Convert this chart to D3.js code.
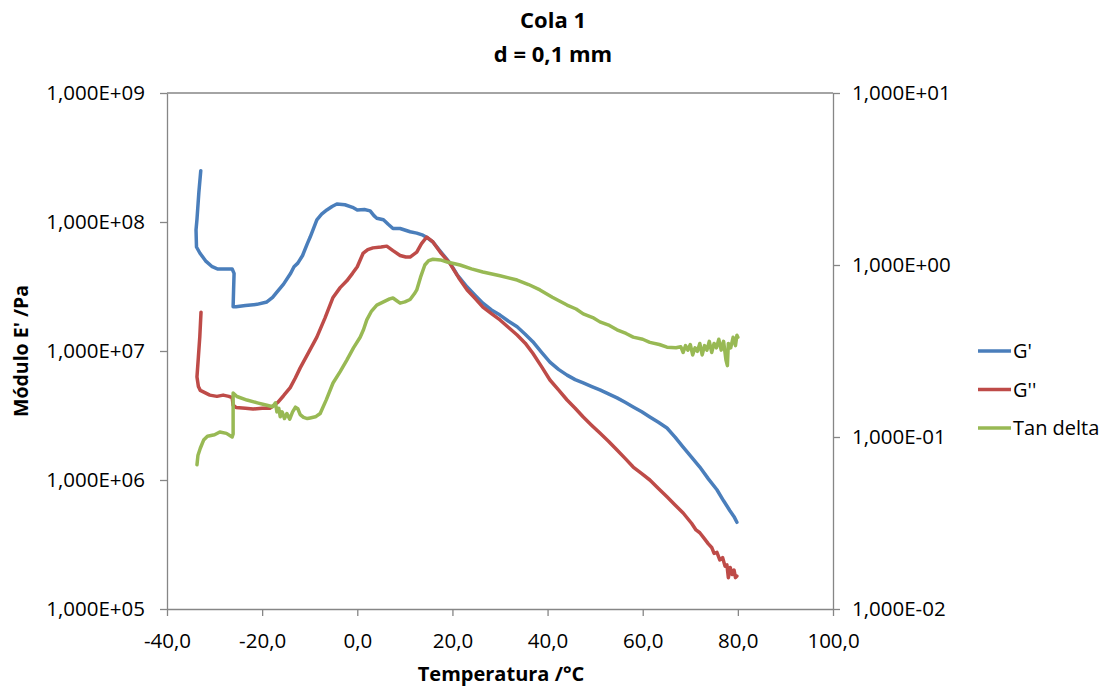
<!DOCTYPE html>
<html>
<head>
<meta charset="utf-8">
<script src="https://cdn.jsdelivr.net/npm/d3@7"></script>
<style>
  body { margin: 0; background: #fff; }
  text { font-family: "Open Sans", "Noto Sans", sans-serif; fill: #000; }
</style>
</head>
<body>
<svg id="chart" width="1113" height="688"></svg>
<script>
// temperature (°C) vs G' (Pa)
var gPrime = [
  [-32.9, 2.5e8], [-33.3, 1.7e8], [-33.7, 1.05e8], [-33.9, 8.7e7], [-33.8, 6.4e7], [-33.1, 5.75e7],
  [-31.9, 5.0e7], [-30.5, 4.5e7], [-29.3, 4.32e7], [-27.5, 4.32e7], [-26.3, 4.32e7], [-25.9, 4.0e7],
  [-26.0, 3.0e7], [-26.1, 2.2e7], [-25.5, 2.2e7], [-23.5, 2.25e7], [-21.1, 2.3e7], [-19.0, 2.4e7],
  [-17.8, 2.6e7], [-16.9, 2.86e7], [-15.5, 3.3e7], [-14.0, 4.0e7], [-13.3, 4.5e7], [-12.5, 4.8e7],
  [-11.5, 5.5e7], [-10.5, 6.8e7], [-9.9, 7.65e7], [-8.5, 1.04e8], [-7.5, 1.15e8], [-6.4, 1.24e8],
  [-5.3, 1.32e8], [-4.3, 1.38e8], [-2.6, 1.36e8], [-1.0, 1.3e8], [0.0, 1.24e8], [1.5, 1.25e8],
  [2.7, 1.22e8], [3.5, 1.12e8], [4.1, 1.07e8], [5.5, 1.04e8], [6.5, 9.6e7], [7.5, 8.9e7],
  [9.0, 8.9e7], [11.1, 8.4e7], [12.5, 8.2e7], [13.8, 7.9e7], [14.8, 7.5e7], [15.9, 7.0e7],
  [17.5, 5.9e7], [19.5, 4.8e7], [21.0, 3.9e7], [23.1, 3.13e7], [24.8, 2.7e7], [26.4, 2.35e7],
  [28.2, 2.08e7], [30.0, 1.9e7], [31.8, 1.7e7], [33.6, 1.54e7], [35.3, 1.35e7], [36.9, 1.18e7],
  [38.7, 9.8e6], [40.5, 8.2e6], [42.3, 7.2e6], [44.1, 6.5e6], [45.8, 6.0e6], [47.5, 5.65e6],
  [49.3, 5.3e6], [51.0, 5.0e6], [52.8, 4.65e6], [54.6, 4.33e6], [56.3, 4.0e6], [58.0, 3.68e6],
  [59.8, 3.38e6], [61.5, 3.08e6], [63.3, 2.8e6], [65.1, 2.53e6], [66.8, 2.15e6], [68.5, 1.8e6],
  [70.3, 1.5e6], [72.0, 1.26e6], [73.8, 1.02e6], [75.6, 8.4e5], [77.0, 6.9e5], [78.3, 5.8e5],
  [79.2, 5.2e5], [79.8, 4.7e5]
];

// temperature vs G'' (Pa)
var gDouble = [
  [-32.85, 2.0e7], [-33.1, 1.3e7], [-33.4, 9.0e6], [-33.7, 6.3e6], [-33.4, 5.3e6], [-33.0, 4.95e6],
  [-31.0, 4.55e6], [-29.5, 4.45e6], [-28.2, 4.55e6], [-27.0, 4.45e6], [-26.3, 4.35e6], [-26.1, 3.8e6],
  [-25.5, 3.65e6], [-23.5, 3.6e6], [-21.9, 3.55e6], [-20.0, 3.6e6], [-18.4, 3.6e6], [-17.5, 3.8e6],
  [-16.7, 4.0e6], [-15.5, 4.5e6], [-14.1, 5.2e6], [-13.0, 6.2e6], [-12.0, 7.4e6], [-10.2, 9.8e6],
  [-8.5, 1.28e7], [-6.8, 1.8e7], [-5.1, 2.6e7], [-3.6, 3.1e7], [-2.2, 3.5e7], [-1.0, 4.0e7],
  [0.0, 4.5e7], [1.2, 5.7e7], [2.2, 6.1e7], [3.3, 6.3e7], [5.0, 6.4e7], [6.2, 6.5e7],
  [7.5, 6.0e7], [9.0, 5.5e7], [10.2, 5.35e7], [11.1, 5.35e7], [12.5, 5.85e7], [13.5, 6.8e7],
  [14.6, 7.65e7], [15.9, 7.0e7], [17.5, 5.8e7], [19.5, 4.75e7], [21.3, 3.7e7], [23.1, 2.97e7],
  [24.8, 2.55e7], [26.4, 2.19e7], [28.2, 1.95e7], [30.0, 1.74e7], [31.8, 1.52e7], [33.6, 1.33e7],
  [35.3, 1.15e7], [36.9, 9.6e6], [38.7, 7.6e6], [40.5, 5.96e6], [42.3, 5.0e6], [44.1, 4.17e6],
  [45.8, 3.6e6], [47.5, 3.08e6], [49.3, 2.65e6], [51.0, 2.31e6], [52.8, 2.0e6], [54.6, 1.71e6],
  [56.3, 1.47e6], [58.0, 1.26e6], [59.8, 1.12e6], [61.5, 1.0e6], [63.3, 8.6e5], [65.1, 7.4e5],
  [66.8, 6.4e5], [68.5, 5.55e5], [70.3, 4.6e5], [71.2, 4.1e5], [72.0, 3.9e5], [73.0, 3.5e5],
  [73.8, 3.2e5], [74.5, 3.0e5], [75.0, 2.7e5], [75.6, 2.75e5], [76.2, 2.4e5], [76.8, 2.5e5],
  [77.3, 2.15e5], [77.7, 2.2e5], [78.0, 1.75e5], [78.4, 2.1e5], [78.8, 1.85e5], [79.2, 2.0e5],
  [79.5, 1.75e5], [79.8, 1.8e5]
];

// temperature vs tan delta (right axis)
var tanDelta = [
  [-33.7, 0.069], [-33.5, 0.078], [-33.0, 0.086], [-32.3, 0.096], [-31.5, 0.101], [-30.0, 0.103],
  [-28.9, 0.107], [-27.5, 0.105], [-26.3, 0.100], [-26.1, 0.104], [-26.1, 0.18], [-25.3, 0.172],
  [-23.2, 0.164], [-21.0, 0.158], [-19.0, 0.153], [-17.8, 0.150], [-17.2, 0.158], [-16.9, 0.140],
  [-16.5, 0.147], [-16.2, 0.131], [-15.8, 0.140], [-15.3, 0.128], [-14.8, 0.137], [-14.2, 0.127],
  [-13.6, 0.140], [-13.0, 0.149], [-12.5, 0.146], [-12.0, 0.135], [-11.3, 0.130], [-10.5, 0.128],
  [-9.9, 0.129], [-8.8, 0.131], [-7.8, 0.137], [-6.5, 0.165], [-5.1, 0.206], [-3.6, 0.24],
  [-2.2, 0.28], [-0.8, 0.33], [0.6, 0.38], [1.3, 0.42], [2.0, 0.48], [3.0, 0.54],
  [4.1, 0.585], [5.5, 0.61], [6.8, 0.635], [7.5, 0.643], [8.3, 0.62], [9.0, 0.60],
  [10.0, 0.61], [11.1, 0.63], [12.0, 0.68], [12.5, 0.716], [13.3, 0.85], [14.2, 1.0],
  [15.0, 1.06], [15.9, 1.08], [17.5, 1.07], [18.9, 1.04], [21.6, 1.0], [24.0, 0.95],
  [26.4, 0.91], [30.0, 0.865], [33.6, 0.818], [36.0, 0.77], [38.4, 0.716], [41.0, 0.65],
  [44.1, 0.585], [46.0, 0.555], [47.5, 0.52], [49.5, 0.495], [51.0, 0.467], [53.0, 0.445],
  [54.6, 0.42], [56.5, 0.40], [58.0, 0.381], [60.0, 0.37], [61.5, 0.355], [63.5, 0.345],
  [65.1, 0.333], [67.0, 0.33], [68.0, 0.335], [68.5, 0.31], [69.0, 0.34], [69.5, 0.32],
  [70.0, 0.345], [70.5, 0.30], [71.0, 0.33], [71.5, 0.315], [72.0, 0.35], [72.5, 0.30],
  [73.0, 0.34], [73.5, 0.32], [74.0, 0.36], [74.5, 0.31], [75.0, 0.35], [75.5, 0.33],
  [76.0, 0.37], [76.5, 0.32], [77.0, 0.36], [77.5, 0.28], [77.8, 0.26], [78.0, 0.35],
  [78.5, 0.33], [79.0, 0.38], [79.5, 0.34], [79.8, 0.39], [80.0, 0.38]
];

var xTicks = [-40, -20, 0, 20, 40, 60, 80, 100];
var leftTicks = [1e5, 1e6, 1e7, 1e8, 1e9];
var rightTicks = [1e-2, 1e-1, 1e0, 1e1];
var seriesNames = ["G'", "G''", "Tan delta"];
var seriesColors = ["#4A7EBB", "#BE4B48", "#98B954"];

const margin = {top: 93, right: 280, bottom: 79, left: 167};
var width = 1113 - margin.left - margin.right;
var height = 688 - margin.top - margin.bottom;

var svg = d3.select("#chart");
var g = svg.append("g").attr("transform", "translate(" + margin.left + "," + margin.top + ")");

var x = d3.scaleLinear().domain([-40, 100]).range([0, width]);
var yLeft = d3.scaleLog().domain([1e5, 1e9]).range([height, 0]);
var yRight = d3.scaleLog().domain([1e-2, 1e1]).range([height, 0]);

function sci(v){
  var e = Math.round(Math.log10(v));
  var s = e < 0 ? "-" : "+";
  var a = Math.abs(e);
  return "1,000E" + s + (a < 10 ? "0" + a : a);
}

var axisColor = "#868686";
var tickFont = "20.5px";

var xAxis = g.append("g")
  .attr("transform", "translate(0," + height + ")")
  .call(d3.axisBottom(x).tickValues(xTicks).tickSize(7).tickSizeOuter(0).tickPadding(17)
    .tickFormat(d => d3.format(".1f")(d).replace(".", ",").replace("\u2212", "-")));

var lAxis = g.append("g")
  .call(d3.axisLeft(yLeft).tickValues(leftTicks).tickSize(7).tickSizeOuter(0).tickPadding(15)
    .tickFormat(sci));

var rAxis = g.append("g")
  .attr("transform", "translate(" + width + ",0)")
  .call(d3.axisRight(yRight).tickValues(rightTicks).tickSize(7).tickSizeOuter(0).tickPadding(12)
    .tickFormat(sci));

[xAxis, lAxis, rAxis].forEach(function(a){
  a.select(".domain").attr("stroke", axisColor).attr("stroke-width", 1.3);
  a.selectAll(".tick line").attr("stroke", axisColor).attr("stroke-width", 1.3);
  a.selectAll(".tick text").style("font-size", tickFont).attr("fill", "#000");
});

// top border line of plot area
g.append("line")
  .attr("x1", 0).attr("x2", width).attr("y1", 0).attr("y2", 0)
  .attr("stroke", axisColor).attr("stroke-width", 1.3);

var lineLeft = d3.line().x(d => x(d[0])).y(d => yLeft(d[1]));
var lineRight = d3.line().x(d => x(d[0])).y(d => yRight(d[1]));

var series = [
  {data: gPrime, line: lineLeft},
  {data: gDouble, line: lineLeft},
  {data: tanDelta, line: lineRight}
];

series.forEach(function(s, i){
  g.append("path")
    .datum(s.data)
    .attr("d", s.line)
    .attr("fill", "none")
    .attr("stroke", seriesColors[i])
    .attr("stroke-width", 3.5)
    .attr("stroke-linejoin", "round")
    .attr("stroke-linecap", "round");
});

// titles
svg.append("text").attr("x", 553).attr("y", 28).attr("text-anchor", "middle")
  .style("font-size", "22px").style("font-weight", "bold").text("Cola 1");
svg.append("text").attr("x", 553).attr("y", 62).attr("text-anchor", "middle")
  .style("font-size", "22px").style("font-weight", "bold").text("d = 0,1 mm");

svg.append("text").attr("x", 501).attr("y", 681).attr("text-anchor", "middle")
  .style("font-size", "20px").style("font-weight", "bold").text("Temperatura /°C");

svg.append("text")
  .attr("transform", "translate(28," + (margin.top + height / 2) + ") rotate(-90)")
  .attr("text-anchor", "middle")
  .style("font-size", "19.5px").style("font-weight", "bold").text("Módulo E' /Pa");

// legend
var legend = svg.append("g").attr("transform", "translate(978,351)");
seriesNames.forEach(function(n, i){
  var row = legend.append("g").attr("transform", "translate(0," + (i * 38.5) + ")");
  row.append("line").attr("x1", 0).attr("x2", 33).attr("y1", 0).attr("y2", 0)
    .attr("stroke", seriesColors[i]).attr("stroke-width", 3.5);
  row.append("text").attr("x", 35).attr("y", 7).style("font-size", "20px").text(n);
});
</script>
</body>
</html>
